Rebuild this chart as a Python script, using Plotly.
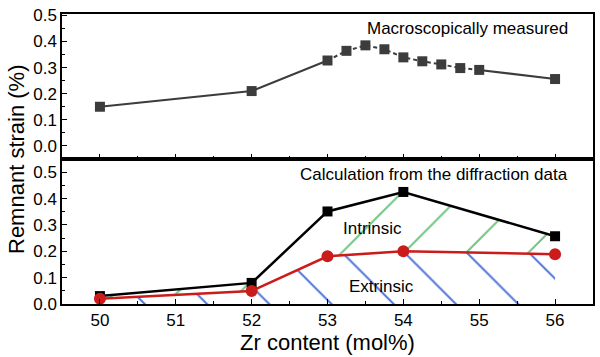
import plotly.graph_objects as go
from plotly.subplots import make_subplots

# Top panel: macroscopically measured
macro_x = [50, 52, 53, 53.25, 53.5, 53.75, 54, 54.25, 54.5, 54.75, 55, 56]
macro_y = [0.15, 0.21, 0.327, 0.364, 0.385, 0.370, 0.339, 0.324, 0.312, 0.298, 0.291, 0.256]

# Bottom panel: diffraction data
diff_x = [50, 52, 53, 54, 56]
total_y = [0.03, 0.08, 0.351, 0.425, 0.257]
extrinsic_y = [0.02, 0.049, 0.181, 0.200, 0.189]

x_ticks = [50, 51, 52, 53, 54, 55, 56]
y_ticks = [0.0, 0.1, 0.2, 0.3, 0.4, 0.5]

FONT = "Liberation Sans, Arial, sans-serif"
GRAY = "#3c3c3c"
RED = "#cc1b1b"

fig = make_subplots(rows=2, cols=1, shared_xaxes=True, vertical_spacing=0)

# top: solid, dashed, solid segments
i53 = macro_x.index(53)
i55 = macro_x.index(55)
fig.add_trace(go.Scatter(x=macro_x[:i53 + 1], y=macro_y[:i53 + 1], mode="lines",
                         line=dict(color=GRAY, width=2)), row=1, col=1)
fig.add_trace(go.Scatter(x=macro_x[i53:i55 + 1], y=macro_y[i53:i55 + 1], mode="lines",
                         line=dict(color=GRAY, width=2, dash="4px,3px")), row=1, col=1)
fig.add_trace(go.Scatter(x=macro_x[i55:], y=macro_y[i55:], mode="lines",
                         line=dict(color=GRAY, width=2)), row=1, col=1)
fig.add_trace(go.Scatter(x=macro_x, y=macro_y, mode="markers",
                         marker=dict(symbol="square", size=10, color=GRAY)), row=1, col=1)

# bottom: extrinsic fill (blue hatch) and intrinsic fill (green hatch)
fig.add_trace(go.Scatter(x=diff_x, y=extrinsic_y, mode="lines", fill="tozeroy",
                         fillcolor="rgba(0,0,0,0)",
                         fillpattern=dict(shape="\\", size=44, solidity=0.045,
                                          fgcolor="#5077d8", fgopacity=1),
                         line=dict(color=RED, width=2.5)), row=2, col=1)
fig.add_trace(go.Scatter(x=diff_x, y=total_y, mode="lines", fill="tonexty",
                         fillcolor="rgba(0,0,0,0)",
                         fillpattern=dict(shape="/", size=44, solidity=0.045,
                                          fgcolor="#72c482", fgopacity=1),
                         line=dict(color="black", width=2.5)), row=2, col=1)
fig.add_trace(go.Scatter(x=diff_x, y=total_y, mode="markers",
                         marker=dict(symbol="square", size=10, color="black")), row=2, col=1)
fig.add_trace(go.Scatter(x=diff_x, y=extrinsic_y, mode="markers",
                         marker=dict(symbol="circle", size=12, color=RED)), row=2, col=1)

axis_common = dict(showline=True, linecolor="black", linewidth=1.5, mirror=True,
                   ticks="inside", ticklen=5, tickwidth=1, tickcolor="black",
                   showgrid=False, zeroline=False,
                   tickfont=dict(family=FONT, size=17, color="black"))

fig.update_xaxes(range=[49.5, 56.5], tickvals=x_ticks,
                 minor=dict(ticks="inside", ticklen=3, dtick=0.5, tick0=50,
                            tickcolor="black"),
                 **axis_common)
fig.update_xaxes(showticklabels=False, row=1, col=1)
fig.update_xaxes(title=dict(text="Zr content (mol%)", font=dict(family=FONT, size=22, color="black"),
                            standoff=2), row=2, col=1)

fig.update_yaxes(tickvals=y_ticks, tickformat=".1f",
                 minor=dict(ticks="inside", ticklen=3, dtick=0.05, tick0=0,
                            tickcolor="black"),
                 **axis_common)
fig.update_yaxes(range=[-0.05, 0.505], row=1, col=1)
fig.update_yaxes(range=[0, 0.55], row=2, col=1)

fig.add_annotation(text="Remnant strain (%)", x=0.0, xref="paper", xanchor="center",
                   xshift=-46, y=0.5, yref="paper", showarrow=False, textangle=-90,
                   font=dict(family=FONT, size=22, color="black"))
fig.add_annotation(text="Macroscopically measured", x=56.2, y=0.45, xref="x", yref="y",
                   xanchor="right", showarrow=False,
                   font=dict(family=FONT, size=17, color="black"))
fig.add_annotation(text="Calculation from the diffraction data", x=56.2, y=0.49,
                   xref="x2", yref="y2", xanchor="right", showarrow=False,
                   font=dict(family=FONT, size=17, color="black"))
fig.add_annotation(text="Intrinsic", x=53.59, y=0.287, xref="x2", yref="y2",
                   showarrow=False, font=dict(family=FONT, size=17, color="black"))
fig.add_annotation(text="Extrinsic", x=53.71, y=0.068, xref="x2", yref="y2",
                   showarrow=False, font=dict(family=FONT, size=17, color="black"))

fig.update_layout(width=600, height=357, showlegend=False,
                  margin=dict(l=62, r=7, t=14, b=53, autoexpand=False),
                  plot_bgcolor="white", paper_bgcolor="white")

fig.write_html("out.html", config={"displayModeBar": False},
               post_script="document.body.style.margin='0';")
